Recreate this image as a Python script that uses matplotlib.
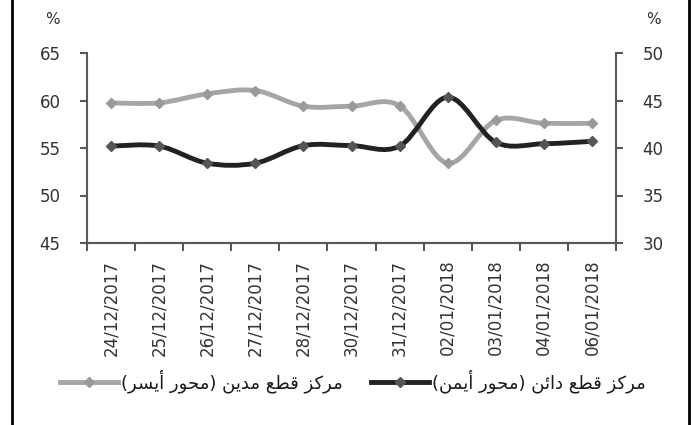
import numpy as np
import matplotlib
matplotlib.use("Agg")
import matplotlib.pyplot as plt
from matplotlib.path import Path
from matplotlib.patches import PathPatch
from matplotlib.lines import Line2D

# Data
dates = ['24/12/2017', '25/12/2017', '26/12/2017', '27/12/2017', '28/12/2017', '30/12/2017',
         '31/12/2017', '02/01/2018', '03/01/2018', '04/01/2018', '06/01/2018']
debit = [59.75, 59.75, 60.7, 61.05, 59.4, 59.4, 59.45, 53.4, 57.9, 57.6, 57.6]     # left axis
credit = [40.2, 40.2, 38.4, 38.4, 40.25, 40.25, 40.2, 45.35, 40.6, 40.45, 40.7]    # right axis
label_debit = 'مركز قطع مدين (محور أيسر)'
label_credit = 'مركز قطع دائن (محور أيمن)'

# Arabic presentation forms (iso, fin, ini, med) - matplotlib has no shaping
FORMS = {
    'ا': ('\uFE8D', '\uFE8E', None, None), 'أ': ('\uFE83', '\uFE84', None, None),
    'د': ('\uFEA9', '\uFEAA', None, None), 'ر': ('\uFEAD', '\uFEAE', None, None),
    'ز': ('\uFEAF', '\uFEB0', None, None), 'و': ('\uFEED', '\uFEEE', None, None),
    'م': ('\uFEE1', '\uFEE2', '\uFEE3', '\uFEE4'), 'ك': ('\uFED9', '\uFEDA', '\uFEDB', '\uFEDC'),
    'ق': ('\uFED5', '\uFED6', '\uFED7', '\uFED8'), 'ط': ('\uFEC1', '\uFEC2', '\uFEC3', '\uFEC4'),
    'ع': ('\uFEC9', '\uFECA', '\uFECB', '\uFECC'), 'ي': ('\uFEF1', '\uFEF2', '\uFEF3', '\uFEF4'),
    'ن': ('\uFEE5', '\uFEE6', '\uFEE7', '\uFEE8'), 'ح': ('\uFEA1', '\uFEA2', '\uFEA3', '\uFEA4'),
    'س': ('\uFEB1', '\uFEB2', '\uFEB3', '\uFEB4'), 'ئ': ('\uFE89', '\uFE8A', '\uFE8B', '\uFE8C'),
}


def shape(s):
    out = []
    for i, c in enumerate(s):
        if c not in FORMS:
            out.append(c)
            continue
        f = FORMS[c]
        prev = s[i - 1] if i > 0 else ''
        nxt = s[i + 1] if i + 1 < len(s) else ''
        jp = prev in FORMS and FORMS[prev][2] is not None
        jn = f[2] is not None and nxt in FORMS
        out.append(f[3] if jp and jn else f[1] if jp else f[2] if jn else f[0])
    return ''.join(out)[::-1].translate(str.maketrans('()', ')('))


def smooth_path(x, y):
    # Excel-like smoothed line: cubic bezier, catmull-rom control points
    p = np.column_stack([x, y]).astype(float)
    ext = np.vstack([p[0], p, p[-1]])
    verts, codes = [p[0]], [Path.MOVETO]
    for i in range(len(p) - 1):
        c1 = ext[i + 1] + (ext[i + 2] - ext[i]) / 6
        c2 = ext[i + 2] - (ext[i + 3] - ext[i + 1]) / 6
        verts += [c1, c2, ext[i + 2]]
        codes += [Path.CURVE4] * 3
    return Path(verts, codes)


plt.rcParams['font.family'] = ['DejaVu Sans']
AX_COL = '#595959'
TXT_COL = '#333333'
GRAY, BLACK = '#a6a6a6', '#222222'

fig = plt.figure(figsize=(6.93, 4.25), dpi=100)
ax = fig.add_axes([87 / 693, 1 - 243 / 425, (616 - 87) / 693, (243 - 53) / 425])
ax2 = ax.twinx()

x = np.arange(len(dates))
ax.add_patch(PathPatch(smooth_path(x, debit), fill=False, edgecolor=GRAY, lw=3.5,
                       capstyle='round', joinstyle='round'))
ax.plot(x, debit, ls='none', marker='D', ms=5, color='#9a9a9a')
ax2.add_patch(PathPatch(smooth_path(x, credit), fill=False, edgecolor=BLACK, lw=3.5,
                        capstyle='round', joinstyle='round'))
ax2.plot(x, credit, ls='none', marker='D', ms=5, color='#555555')

ax.set_xlim(-0.5, len(dates) - 0.5)
ax.set_ylim(45, 65)
ax2.set_ylim(30, 50)
ax.set_yticks([45, 50, 55, 60, 65])
ax2.set_yticks([30, 35, 40, 45, 50])
ax.set_xticks(np.arange(-0.5, len(dates), 1))
ax.set_xticklabels([])
ax.set_xticks(x, minor=True)
ax.set_xticklabels(dates, minor=True, rotation=90)
ax.tick_params(axis='x', which='major', length=6, width=1.5, color=AX_COL, direction='out')
ax.tick_params(axis='x', which='minor', length=0, pad=12, labelsize=12, labelcolor=TXT_COL)
ax.tick_params(axis='y', length=5, width=1.5, color=AX_COL, pad=14, labelsize=12, labelcolor=TXT_COL)
ax2.tick_params(axis='y', length=5, width=1.5, color=AX_COL, pad=14, labelsize=12, labelcolor=TXT_COL)

for a in (ax, ax2):
    a.spines['top'].set_visible(False)
    for s in ('left', 'right', 'bottom'):
        a.spines[s].set_color(AX_COL)
        a.spines[s].set_linewidth(1.5)
ax.spines['right'].set_visible(False)
ax2.spines['left'].set_visible(False)

fig.text(52 / 693, 1 - 19 / 425, '%', ha='center', va='center', fontsize=11, color=TXT_COL)
fig.text(653 / 693, 1 - 19 / 425, '%', ha='center', va='center', fontsize=11, color=TXT_COL)

handles = [Line2D([], [], color=GRAY, lw=3.5, marker='D', ms=5, mfc='#9a9a9a', mec='#9a9a9a'),
           Line2D([], [], color=BLACK, lw=3.5, marker='D', ms=5, mfc='#555555', mec='#555555')]
fig.legend(handles, [shape(label_debit), shape(label_credit)], ncol=2, loc='center',
           bbox_to_anchor=(353 / 693, 1 - 381 / 425), frameon=False, fontsize=13,
           handlelength=3.2, handletextpad=0.15, columnspacing=1.6, numpoints=1,
           labelcolor='#1a1a1a')

# side frame lines
for xf in (12 / 693, 689 / 693):
    fig.add_artist(Line2D([xf, xf], [0, 1], transform=fig.transFigure, color='black', lw=2))

fig.savefig('out.png', dpi=100)
